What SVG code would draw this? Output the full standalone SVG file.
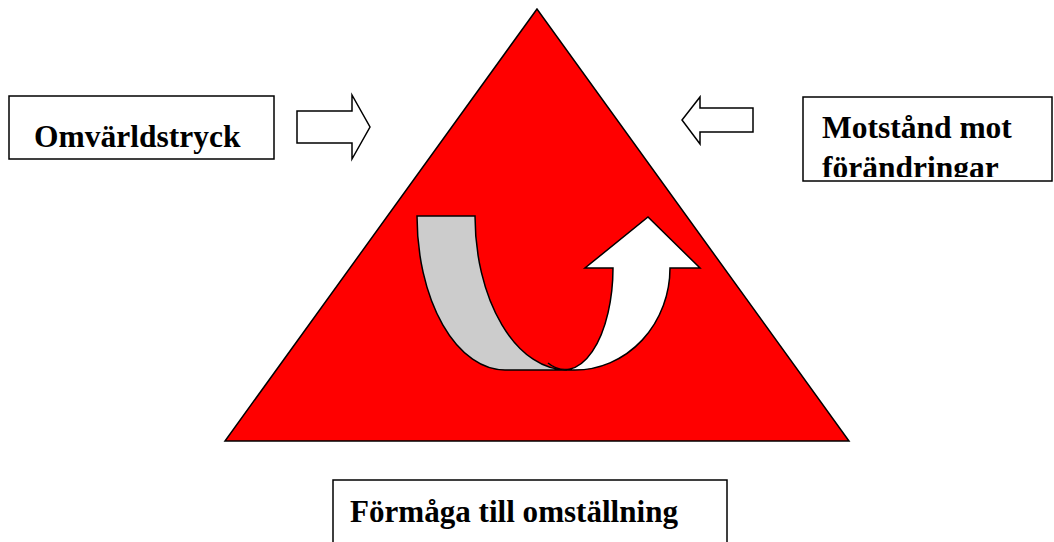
<svg xmlns="http://www.w3.org/2000/svg" width="1054" height="542" viewBox="0 0 1054 542">
  <style>
    .box { fill: #ffffff; stroke: #000000; stroke-width: 1.5; }
    .lbl { font-family: "Liberation Serif", "Times New Roman", serif; font-weight: bold; font-size: 31.5px; fill: #000000; }
    .blk { fill: #ffffff; stroke: #000000; stroke-width: 1.5; stroke-linejoin: miter; }
  </style>
  <defs>
    <clipPath id="clipMot">
      <rect x="803" y="97" width="251" height="80"/>
    </clipPath>
  </defs>
  <rect width="1054" height="542" fill="#ffffff"/>

  <g id="triangle">
    <polygon points="537,9 225,441 849,441" fill="#ff0000" stroke="#000000" stroke-width="1.5"/>
  </g>

  <g id="uturn">
    <path d="M548,363 A48,102 0 0 0 613,268 L585,268 L648,217 L700,268 L670,268 A95,102 0 0 1 575,370 L560,370 Z" fill="#ffffff" stroke="none"/>
    <path d="M548,363 A48,102 0 0 0 613,268 L585,268 L648,217 L700,268 L670,268 A95,102 0 0 1 575,370 L567,370" fill="none" stroke="#000000" stroke-width="1.5" stroke-linejoin="miter"/>
    <path d="M417,216 L475,216 A92,154 0 0 0 567,370 L505,370 A88,154 0 0 1 417,216 Z" fill="#cccccc" stroke="#000000" stroke-width="1.5"/>
  </g>

  <g id="omvarld">
    <rect class="box" x="9" y="96" width="265" height="63"/>
    <text class="lbl" x="34" y="147">Omvärldstryck</text>
  </g>

  <g id="motstand">
    <rect class="box" x="803" y="97" width="249" height="84"/>
    <g clip-path="url(#clipMot)">
      <text class="lbl" x="822" y="138">Motstånd mot</text>
      <text class="lbl" x="822" y="178">förändringar</text>
    </g>
  </g>

  <g id="formaga">
    <rect class="box" x="333" y="480" width="394" height="80"/>
    <text class="lbl" x="350" y="522" textLength="328" lengthAdjust="spacingAndGlyphs">Förmåga till omställning</text>
  </g>

  <g id="connectors">
    <polygon class="blk" points="297,111 352,111 352,95 370,127 352,159 352,143 297,143"/>
    <polygon class="blk" points="753,108 700,108 700,97 682,120 700,144 700,132 753,132"/>
  </g>
</svg>
